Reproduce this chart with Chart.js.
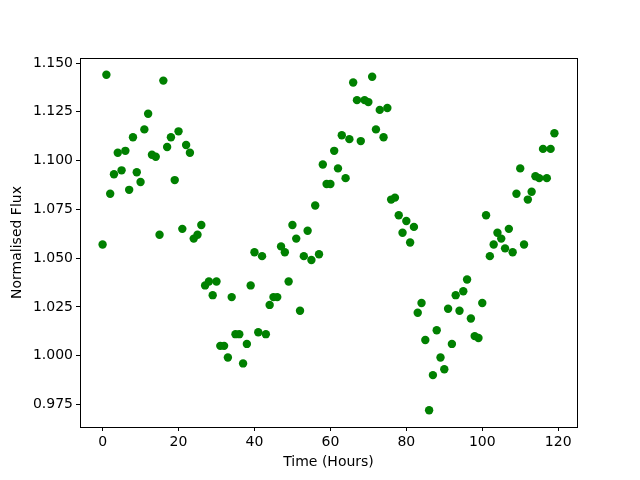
<!DOCTYPE html>
<html>
<head>
<meta charset="utf-8">
<script src="https://cdn.jsdelivr.net/npm/chart.js@4"></script>
<style>
  html, body { margin: 0; padding: 0; background: #fff; }
  #wrap { width: 640px; height: 480px; }
</style>
</head>
<body>
<div id="wrap"><canvas id="myChart" width="640" height="480"></canvas></div>
<script>
const hours = [];
for (let i = 0; i < 120; i++) hours.push(i);

const flux = [
  1.057, 1.144, 1.083, 1.093, 1.104, 1.095, 1.105, 1.085, 1.112, 1.094,
  1.089, 1.116, 1.124, 1.103, 1.102, 1.062, 1.141, 1.107, 1.112, 1.090,
  1.115, 1.065, 1.108, 1.104, 1.060, 1.062, 1.067, 1.036, 1.038, 1.031,
  1.038, 1.005, 1.005, 0.999, 1.030, 1.011, 1.011, 0.996, 1.006, 1.036,
  1.053, 1.012, 1.051, 1.011, 1.026, 1.030, 1.030, 1.056, 1.053, 1.038,
  1.067, 1.060, 1.023, 1.051, 1.064, 1.049, 1.077, 1.052, 1.098, 1.088,
  1.088, 1.105, 1.096, 1.113, 1.091, 1.111, 1.140, 1.131, 1.110, 1.131,
  1.130, 1.143, 1.116, 1.126, 1.112, 1.127, 1.080, 1.081, 1.072, 1.063,
  1.069, 1.058, 1.066, 1.022, 1.027, 1.008, 0.972, 0.990, 1.013, 0.999,
  0.993, 1.024, 1.006, 1.031, 1.023, 1.033, 1.039, 1.019, 1.010, 1.009,
  1.027, 1.072, 1.051, 1.057, 1.063, 1.060, 1.055, 1.065, 1.053, 1.083,
  1.096, 1.057, 1.080, 1.084, 1.092, 1.091, 1.106, 1.091, 1.106, 1.114,
];

const xTicks = [0, 20, 40, 60, 80, 100, 120];
const yTicks = [0.975, 1.0, 1.025, 1.05, 1.075, 1.1, 1.125, 1.15];

Chart.defaults.color = "#000";
Chart.defaults.font.family = "'DejaVu Sans', sans-serif";
Chart.defaults.font.size = 14;

// frame round the plot area, like matplotlib spines
const frame = {
  id: "frame",
  afterDatasetsDraw(chart) {
    const { ctx, chartArea: a } = chart;
    ctx.save();
    ctx.strokeStyle = "#000";
    ctx.lineWidth = 1;
    ctx.strokeRect(Math.round(a.left) + 0.5, Math.round(a.top) + 0.5,
      Math.round(a.right - a.left), Math.round(a.bottom - a.top));
    ctx.restore();
  },
};

const config = {
  type: "scatter",
  data: {
    datasets: [
      {
        data: hours.map((h, i) => ({ x: h, y: flux[i] })),
        backgroundColor: "#008000",
        borderWidth: 0,
        pointRadius: 4.2,
        pointHoverRadius: 4.2,
      },
    ],
  },
  plugins: [frame],
  options: {
    responsive: false,
    animation: false,
    layout: { padding: { left: 0, right: 63, top: 58, bottom: 0 } },
    plugins: {
      legend: { display: false },
      tooltip: { enabled: false },
    },
    scales: {
      x: {
        type: "linear",
        min: -5.95,
        max: 124.95,
        afterBuildTicks: (s) => { s.ticks = xTicks.map((v) => ({ value: v })); },
        afterFit: (s) => { s.height = 53; },
        border: { display: false },
        grid: { drawOnChartArea: false, drawTicks: true, tickLength: 4, color: "#000" },
        ticks: { padding: 3, maxRotation: 0, callback: (v) => String(v) },
        title: { display: true, text: "Time (Hours)", padding: { top: 0, bottom: 9 } },
      },
      y: {
        type: "linear",
        min: 0.9634,
        max: 1.1526,
        afterBuildTicks: (s) => { s.ticks = yTicks.map((v) => ({ value: v })); },
        afterFit: (s) => { s.width = 80; },
        border: { display: false },
        grid: { drawOnChartArea: false, drawTicks: true, tickLength: 4, color: "#000" },
        ticks: { padding: 3, callback: (v) => v.toFixed(3) },
        title: { display: true, text: "Normalised Flux", padding: { top: 9, bottom: 0 } },
      },
    },
  },
};

const myChart = new Chart(document.getElementById("myChart").getContext("2d"), config);
</script>
</body>
</html>
